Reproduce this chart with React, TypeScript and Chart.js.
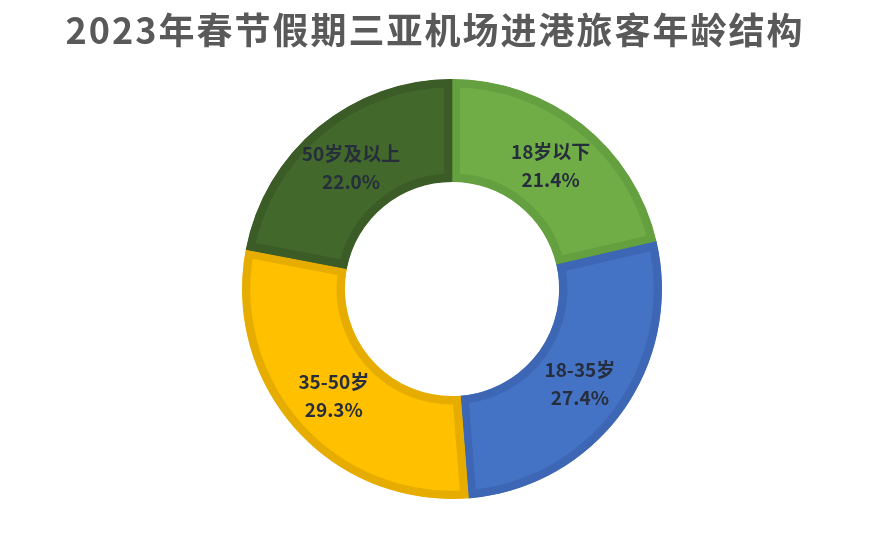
import { useEffect, useRef } from "react";
import { Chart, registerables } from "chart.js";

Chart.register(...registerables);

const TITLE = "2023年春节假期三亚机场进港旅客年龄结构";
const categories = ["18岁以下", "18-35岁", "35-50岁", "50岁及以上"];
const shares = [21.4, 27.4, 29.3, 22.0];
const fillColors = ["#70AD47", "#4472C4", "#FFC000", "#43682B"];
const edgeColors = ["#64A03F", "#3D67B4", "#E6AD00", "#3B5C26"];

const FONT = "'Noto Sans CJK SC', 'Noto Sans', sans-serif";

// draws the title and the two-line labels in the ring
const textPlugin = {
  id: "ringText",
  afterDraw(chart: any) {
    const ctx = chart.ctx;
    ctx.save();
    ctx.textAlign = "center";
    ctx.textBaseline = "middle";

    ctx.fillStyle = "#595959";
    ctx.font = `bold 36px ${FONT}`;
    (ctx as any).letterSpacing = "2px";
    ctx.fillText(TITLE, 427, 22);
    (ctx as any).letterSpacing = "0px";

    const meta = chart.getDatasetMeta(0);
    ctx.fillStyle = "#262D3B";
    ctx.font = `bold 19px ${FONT}`;
    meta.data.forEach((arc: any, i: number) => {
      const p = arc.tooltipPosition();
      ctx.fillText(categories[i], p.x, p.y - 13);
      ctx.fillText(shares[i].toFixed(1) + "%", p.x, p.y + 15);
    });
    ctx.restore();
  },
};

const AgeDoughnut = () => {
  const canvasRef = useRef<HTMLCanvasElement | null>(null);

  useEffect(() => {
    if (!canvasRef.current) return;
    const chart = new Chart(canvasRef.current, {
      type: "doughnut",
      data: {
        labels: categories,
        datasets: [
          {
            data: shares,
            backgroundColor: fillColors,
            borderColor: edgeColors,
            borderWidth: 8,
            borderAlign: "inner",
            hoverOffset: 0,
          },
        ],
      },
      options: {
        animation: false,
        responsive: true,
        maintainAspectRatio: false,
        cutout: "51%",
        layout: { padding: { top: 71, bottom: 26, left: 22, right: 0 } },
        plugins: {
          legend: { display: false },
          title: { display: false },
          tooltip: { enabled: false },
        },
      },
      plugins: [textPlugin],
    });
    return () => chart.destroy();
  }, []);

  return (
    <div style={{ width: 866, height: 517, position: "relative" }}>
      <canvas ref={canvasRef} />
    </div>
  );
};

export default function App() {
  return <AgeDoughnut />;
}
